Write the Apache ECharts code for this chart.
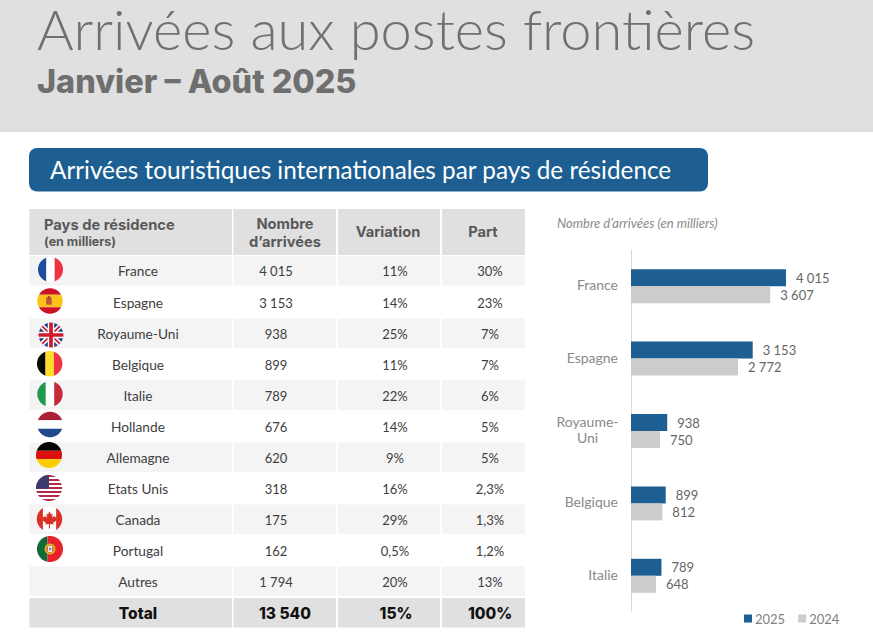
<!DOCTYPE html>
<html><head><meta charset="utf-8">
<style>html,body{margin:0;padding:0;background:#fff}#c{width:873px;height:642px}svg text{font-variant-ligatures:none}</style>
<script src="https://cdn.jsdelivr.net/npm/echarts@6/dist/echarts.min.js"></script>
</head><body><div id="c"></div>
<script>
const chartCategories = ['France','Espagne','Royaume-\nUni','Belgique','Italie'];
const values2025 = [4015,3153,938,899,789];
const values2024 = [3607,2772,750,812,648];
const tableCountries = ['France','Espagne','Royaume-Uni','Belgique','Italie','Hollande','Allemagne','Etats Unis','Canada','Portugal','Autres'];
const tableArrivals = ['4 015','3 153','938','899','789','676','620','318','175','162','1 794'];
const tableVariation = ['11%','14%','25%','11%','22%','14%','9%','16%','29%','0,5%','20%'];
const tableShare = ['30%','23%','7%','7%','6%','5%','5%','2,3%','1,3%','1,2%','13%'];
const totalRow = ['Total','13 540','15%','100%'];

const FONT = 'Lato, sans-serif';
const HEAVY = 'Inter, sans-serif';
const rowTops = [256,286,318.5,348,380.5,410,442.5,472,504.5,534,566.5];
const rowBottoms = [285.5,318,348,380,410,442,472,504,534,566,596];
const rowText = [271,303,334,365,396,427,458,489,520,551,582];
const cols = [[29.5,232],[233.5,336],[338,440],[442,525]];
const cellX = [138,276,395,490];
const totalX = [138,285,396,490];
const flagPos = [[50.5,269.5,12.5],[50,301,12.7],[51,335,12.3],[49.7,363.7,12.7],[50,394,12.7],[50,424.5,12.8],[49,455,13],[49,488,13],[49.5,519,12.7],[50,549,13]];

const g = [];
const rect=(x,y,w,h,fill,r)=>g.push({type:'rect',silent:true,shape:{x,y,width:w,height:h,r:r||0},style:{fill}});
const text=(t,x,y,font,fill,align,lh)=>g.push({type:'text',silent:true,style:{text:t,x,y,font,fill,textAlign:align||'center',textVerticalAlign:'middle',lineHeight:lh}});

// banner
rect(0,0,873,132,'#e0e0e0');
text('Arrivées aux postes frontières',37,28,'300 56px '+FONT,'#707070','left',50);
text('Janvier – Août 2025',37,81,'800 32.4px '+HEAVY,'#6f6f6f','left');
rect(29,148,679,43.5,'#1d5f92',8);
text('Arrivées touristiques internationales par pays de résidence',50,169,'400 24.3px '+FONT,'#ffffff','left');

// table header
cols.forEach(c=>rect(c[0],209,c[1]-c[0],46,'#e0e0e0'));
text('Pays de résidence',44,224.5,'700 14.7px '+HEAVY,'#595959','left');
text('(en milliers)',44,241.5,'700 12.5px '+HEAVY,'#595959','left');
text('Nombre',285,223.5,'700 14.7px '+HEAVY,'#595959');
text('d’arrivées',285,241.5,'700 14.7px '+HEAVY,'#595959');
text('Variation',388,231.5,'700 14.7px '+HEAVY,'#595959');
text('Part',483,231.5,'700 14.7px '+HEAVY,'#595959');

// table rows
tableCountries.forEach((name,i)=>{
  if(i%2===0) cols.forEach(c=>rect(c[0],rowTops[i],c[1]-c[0],rowBottoms[i]-rowTops[i],'#f4f4f4'));
  const cells=[name,tableArrivals[i],tableVariation[i],tableShare[i]];
  cells.forEach((t,j)=>text(t,cellX[j],rowText[i]-(j===0?.5:0),(j===0?'400 13.7px ':'400 13px ')+FONT,'#404040'));
});
cols.forEach(c=>rect(c[0],598,c[1]-c[0],29.5,'#e0e0e0'));
totalRow.forEach((t,j)=>text(t,totalX[j],613,'800 15.5px '+HEAVY,'#111111'));

// flags
const circle=[];for(let i=0;i<72;i++){const a=-i/72*2*Math.PI;circle.push([Math.cos(a),Math.sin(a)]);}
function clip(sub){
  let out=sub;
  for(let i=0;i<circle.length;i++){
    const A=circle[i],B=circle[(i+1)%circle.length];
    const inside=p=>(B[0]-A[0])*(p[1]-A[1])-(B[1]-A[1])*(p[0]-A[0])<=0;
    const inter=(p,q)=>{
      const d1=(B[0]-A[0])*(p[1]-A[1])-(B[1]-A[1])*(p[0]-A[0]);
      const d2=(B[0]-A[0])*(q[1]-A[1])-(B[1]-A[1])*(q[0]-A[0]);
      const t=d1/(d1-d2);return [p[0]+(q[0]-p[0])*t,p[1]+(q[1]-p[1])*t];
    };
    const inp=out;out=[];
    for(let k=0;k<inp.length;k++){
      const P=inp[k],Q=inp[(k+1)%inp.length];
      const a=inside(P),b=inside(Q);
      if(a)out.push(P);
      if(a!==b)out.push(inter(P,Q));
    }
    if(!out.length)return out;
  }
  return out;
}
function flag(idx,draw){
  const [cx,cy,r]=flagPos[idx];
  const P=(pts,fill)=>{const c=clip(pts);if(c.length>2)g.push({type:'polygon',silent:true,shape:{points:c.map(p=>[cx+p[0]*r,cy+p[1]*r])},style:{fill}});};
  const R=(x0,y0,x1,y1,fill)=>P([[x0,y0],[x1,y0],[x1,y1],[x0,y1]],fill);
  const band=(a,b,w,fill)=>{const dx=b[0]-a[0],dy=b[1]-a[1],l=Math.hypot(dx,dy),nx=-dy/l*w,ny=dx/l*w;P([[a[0]+nx,a[1]+ny],[b[0]+nx,b[1]+ny],[b[0]-nx,b[1]-ny],[a[0]-nx,a[1]-ny]],fill);};
  draw(R,P,band,(x,y,rad,fill)=>g.push({type:'circle',silent:true,shape:{cx:cx+x*r,cy:cy+y*r,r:rad*r},style:{fill}}));
}
flag(0,R=>{R(-1,-1,-.33,1,'#1f4e9e');R(-.33,-1,.33,1,'#ffffff');R(.33,-1,1,1,'#ee3342');});
flag(1,(R,P,b,C)=>{R(-1,-1,1,-.5,'#cf1126');R(-1,-.5,1,.5,'#fbc21b');R(-1,.5,1,1,'#cf1126');R(-.3,-.28,.12,.28,'#b5562f');R(-.12,-.1,.12,.26,'#c9553a');C(-.08,-.3,.1,'#a8462c');});
flag(2,(R,P,band)=>{R(-1,-1,1,1,'#1f3f86');band([-1,-1],[1,1],.2,'#ffffff');band([-1,1],[1,-1],.2,'#ffffff');band([-1,-1],[1,1],.07,'#cf1b2b');band([-1,1],[1,-1],.07,'#cf1b2b');R(-.26,-1,.26,1,'#ffffff');R(-1,-.26,1,.26,'#ffffff');R(-.15,-1,.15,1,'#cf1b2b');R(-1,-.15,1,.15,'#cf1b2b');});
flag(3,R=>{R(-1,-1,-.33,1,'#0a0a0a');R(-.33,-1,.33,1,'#fddc2a');R(.33,-1,1,1,'#ee3342');});
flag(4,R=>{R(-1,-1,-.33,1,'#1f9a4c');R(-.33,-1,.33,1,'#ffffff');R(.33,-1,1,1,'#c62a3a');});
flag(5,R=>{R(-1,-1,1,-.33,'#ab2035');R(-1,-.33,1,.33,'#ffffff');R(-1,.33,1,1,'#21468b');});
flag(6,R=>{R(-1,-1,1,-.33,'#050505');R(-1,-.33,1,.33,'#dd1010');R(-1,.33,1,1,'#ffce00');});
flag(7,(R,P,b,C)=>{R(-1,-1,1,1,'#ffffff');for(let i=0;i<7;i++){const y=-1+i*2/6.5;R(-1,y,1,y+.15,'#b22a46');}R(-1,-1,0,.05,'#3c3b6e');for(let i=0;i<5;i++)for(let j=0;j<5;j++)C(-.85+j*.18,-.72+i*.18,.035,'#ffffff');});
flag(8,(R,P,b)=>{R(-1,-1,1,1,'#ffffff');R(-1,-1,-.52,1,'#da3026');R(.52,-1,1,1,'#da3026');P([[0,-.62],[.12,-.36],[.25,-.43],[.2,-.1],[.38,-.25],[.42,-.13],[.56,-.15],[.5,.05],[.56,.1],[.28,.32],[.32,.44],[.04,.4],[.04,.75],[-.04,.75],[-.04,.4],[-.32,.44],[-.28,.32],[-.56,.1],[-.5,.05],[-.56,-.15],[-.42,-.13],[-.38,-.25],[-.2,-.1],[-.25,-.43],[-.12,-.36]],'#da3026');});
flag(9,(R,P,b,C)=>{R(-1,-1,-.2,1,'#0f6a3a');R(-.2,-1,1,1,'#e8212b');C(0,0,.42,'#d9b82a');C(0,0,.3,'#d8653a');R(-.16,-.24,.16,.24,'#f2e9dc');R(-.07,-.1,.07,.1,'#6a78b0');});

// axis note
text('Nombre d’arrivées (en milliers)',557,223,'italic 400 13px '+FONT,'#8a8a8a','left');

const fmt = v => String(v).replace(/\B(?=(\d{3})+$)/g,' ');
const labelCfg = {show:true,position:'right',distance:10,color:'#666666',fontFamily:FONT,fontSize:13,formatter:p=>fmt(p.value)};

const chart = echarts.init(document.getElementById('c'),null,{renderer:'svg'});
chart.setOption({
  animation:false,
  backgroundColor:'#ffffff',
  textStyle:{fontFamily:FONT},
  graphic:{elements:g},
  legend:{left:739,top:607,itemWidth:8,itemHeight:8,itemGap:13,icon:'rect',
    textStyle:{color:'#7f7f7f',fontSize:13,fontFamily:FONT,padding:[0,0,0,-2]},
    data:['2025','2024']},
  grid:{left:631,top:250,width:193,height:362,containLabel:false},
  xAxis:{type:'value',min:0,max:5000,show:false},
  yAxis:{type:'category',inverse:true,data:chartCategories,
    axisLine:{show:true,lineStyle:{color:'#d9d9d9',width:1}},axisTick:{show:false},
    axisLabel:{margin:13,color:'#8a8a8a',fontSize:14,fontFamily:FONT,padding:[0,0,3,0],
      formatter:v=>v.indexOf('\n')>=0?v.split('\n').map(s=>'{c|'+s+'}').join('\n'):v,
      rich:{c:{width:61,align:'center',color:'#8a8a8a',fontSize:14,fontFamily:FONT,lineHeight:16}}}},
  series:[
    {name:'2025',type:'bar',data:values2025,barWidth:17,barGap:0,itemStyle:{color:'#1d5f92'},label:labelCfg},
    {name:'2024',type:'bar',data:values2024,barWidth:17,barGap:0,itemStyle:{color:'#cccccc'},label:labelCfg}
  ]
});
</script></body></html>
